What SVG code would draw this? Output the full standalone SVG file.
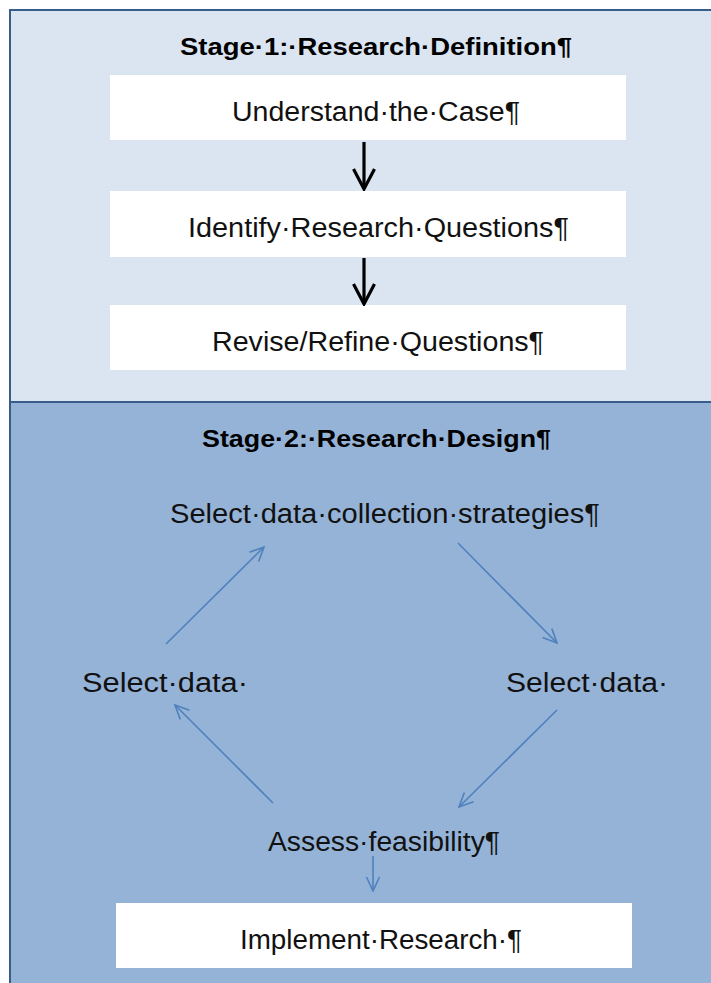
<svg xmlns="http://www.w3.org/2000/svg" width="711" height="983" viewBox="0 0 711 983">
  <defs>
    <marker id="headBlack" viewBox="0 0 24 24" refX="22" refY="12" markerWidth="24" markerHeight="24" markerUnits="userSpaceOnUse" orient="auto">
      <path d="M2,1.5 L22,12 L2,22.5" fill="none" stroke="#000" stroke-width="3.2"/>
    </marker>
    <marker id="headBlue" viewBox="0 0 16 16" refX="15" refY="8" markerWidth="16" markerHeight="16" markerUnits="userSpaceOnUse" orient="auto">
      <path d="M1,1.5 L15,8 L1,14.5" fill="none" stroke="#4f81bd" stroke-width="1.6"/>
    </marker>
    <style>
      .panel1 { fill: #dbe5f1; stroke: #385d8a; stroke-width: 2; }
      .panel2 { fill: #95b3d7; stroke: #385d8a; stroke-width: 2; }
      .box { fill: #ffffff; }
      .title { font-family: "Liberation Sans", Arial, sans-serif; font-weight: bold; font-size: 24px; fill: #000; }
      .label { font-family: "Liberation Sans", Arial, sans-serif; font-size: 27px; fill: #111; }
      .blk { stroke: #000; stroke-width: 3.2; fill: none; }
      .blu { stroke: #4f81bd; stroke-width: 1.6; fill: none; }
    </style>
  </defs>

  <rect x="0" y="0" width="711" height="983" fill="#ffffff"/>

  <!-- Stage 1 panel -->
  <g id="stage1">
    <rect class="panel1" x="10" y="10" width="720" height="392"/>
    <text class="title" x="180" y="55" textLength="392" lengthAdjust="spacingAndGlyphs">Stage·1:·Research·Definition¶</text>
  </g>

  <!-- Stage 2 panel -->
  <g id="stage2">
    <rect class="panel2" x="10" y="402" width="720" height="600"/>
    <text class="title" x="202" y="447" textLength="349" lengthAdjust="spacingAndGlyphs">Stage·2:·Research·Design¶</text>
  </g>

  <g id="understand">
    <rect class="box" x="110" y="75" width="516" height="65"/>
    <text class="label" x="232" y="121" textLength="288" lengthAdjust="spacingAndGlyphs">Understand·the·Case¶</text>
  </g>

  <g id="identify">
    <rect class="box" x="110" y="191" width="516" height="66"/>
    <text class="label" x="188" y="237" textLength="381" lengthAdjust="spacingAndGlyphs">Identify·Research·Questions¶</text>
  </g>

  <g id="revise">
    <rect class="box" x="110" y="305" width="516" height="65"/>
    <text class="label" x="212" y="351" textLength="332" lengthAdjust="spacingAndGlyphs">Revise/Refine·Questions¶</text>
  </g>

  <g id="strategies">
    <text class="label" x="170" y="523" textLength="430" lengthAdjust="spacingAndGlyphs">Select·data·collection·strategies¶</text>
  </g>

  <g id="selectLeft">
    <text class="label" x="82" y="692" textLength="166" lengthAdjust="spacingAndGlyphs">Select·data·</text>
  </g>

  <g id="selectRight">
    <text class="label" x="506" y="692" textLength="162" lengthAdjust="spacingAndGlyphs">Select·data·</text>
  </g>

  <g id="feasibility">
    <text class="label" x="268" y="851" textLength="232" lengthAdjust="spacingAndGlyphs">Assess·feasibility¶</text>
  </g>

  <g id="implement">
    <rect class="box" x="116" y="903" width="516" height="65"/>
    <text class="label" x="240" y="949" textLength="282" lengthAdjust="spacingAndGlyphs">Implement·Research·¶</text>
  </g>

  <!-- connectors -->
  <g id="connectors">
    <line class="blk" x1="364" y1="142" x2="364" y2="189" marker-end="url(#headBlack)"/>
    <line class="blk" x1="364" y1="258" x2="364" y2="304" marker-end="url(#headBlack)"/>
    <line class="blu" x1="166" y1="644" x2="264" y2="547" marker-end="url(#headBlue)"/>
    <line class="blu" x1="458" y1="543" x2="557" y2="643" marker-end="url(#headBlue)"/>
    <line class="blu" x1="557" y1="710" x2="459" y2="807" marker-end="url(#headBlue)"/>
    <line class="blu" x1="273" y1="803" x2="175" y2="705" marker-end="url(#headBlue)"/>
    <line class="blu" x1="373" y1="856" x2="373" y2="891" marker-end="url(#headBlue)"/>
  </g>
</svg>
